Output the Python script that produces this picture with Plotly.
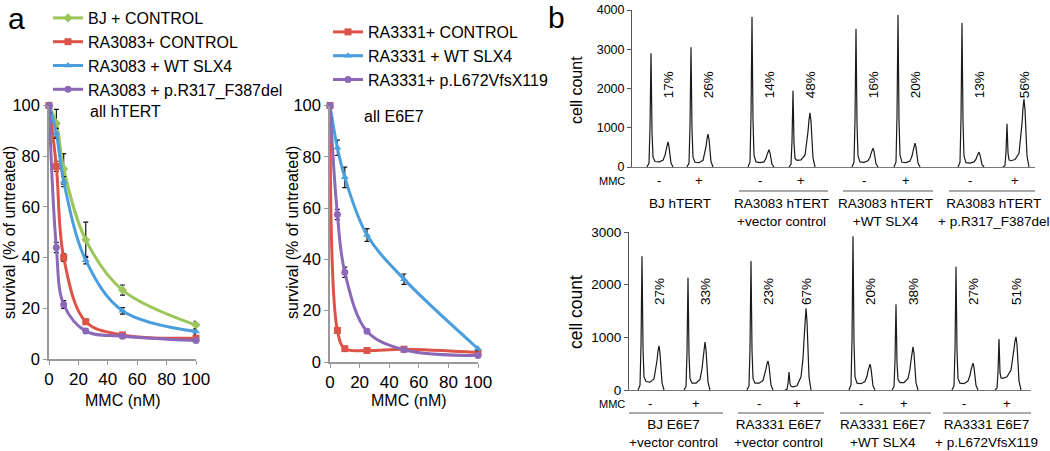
import plotly.graph_objects as go

W, H = 1050, 451
FONT = "Liberation Sans, Arial, Helvetica, sans-serif"

# ---------------- panel a data ----------------
mmc = [0, 5, 10, 25, 50, 100]

# hTERT lines
bj_ctrl = [100, 93, 75, 47, 27.2, 13.4]
bj_ctrl_err = [4, 5.5, 6, 7, 2, 1.5]
ra3083_ctrl = [100, 76, 40, 14.7, 9.5, 8.2]
ra3083_ctrl_err = [3, 2, 1.5, 1, 0.8, 0.8]
ra3083_wt = [100, 89, 70, 39, 19, 10.8]
ra3083_wt_err = [3, 2, 2, 1.5, 1.3, 1]
ra3083_mut = [100, 44, 21.5, 11, 9, 7.3]
ra3083_mut_err = [3, 2, 1.5, 0.8, 0.5, 0.5]

# E6E7 lines
ra3331_ctrl = [100, 12.3, 5.2, 4.5, 5, 3.7]
ra3331_ctrl_err = [5, 1, 0.5, 0.5, 0.5, 0.5]
ra3331_wt = [100, 83.5, 72, 49.5, 32.3, 5.2]
ra3331_wt_err = [5, 3, 4, 2.5, 2, 0.8]
ra3331_mut = [100, 57.5, 35, 12, 4.8, 2.5]
ra3331_mut_err = [5, 2, 2, 0.8, 0.5, 0.5]

# ---------------- panel b data ----------------
channel = [-4, -2, -1, 0, 1, 2, 4, 8, 12, 14, 15, 16, 17, 18, 19, 20, 22]

top_counts = [
    [0, 100, 1000, 2900, 900, 250, 140, 130, 170, 300, 420, 560, 640, 520, 300, 100, 0],
    [0, 100, 1050, 3050, 950, 250, 120, 110, 170, 360, 520, 720, 840, 700, 420, 140, 0],
    [0, 130, 1300, 3820, 1200, 300, 130, 110, 130, 220, 310, 400, 440, 360, 220, 70, 0],
    [0, 70, 650, 1940, 620, 220, 170, 180, 300, 620, 900, 1200, 1380, 1150, 700, 230, 0],
    [0, 120, 1200, 3520, 1100, 280, 130, 120, 160, 250, 340, 430, 480, 400, 240, 80, 0],
    [0, 130, 1300, 3870, 1200, 300, 120, 110, 150, 280, 400, 540, 610, 500, 300, 100, 0],
    [0, 120, 1250, 3670, 1150, 280, 110, 100, 130, 200, 270, 340, 380, 310, 190, 60, 0],
    [0, 40, 380, 1100, 360, 180, 160, 190, 350, 750, 1100, 1500, 1730, 1450, 850, 280, 0],
]
bottom_counts = [
    [0, 90, 850, 2540, 800, 250, 160, 150, 210, 400, 560, 740, 840, 700, 420, 140, 0],
    [0, 70, 700, 2130, 680, 220, 130, 130, 200, 400, 580, 780, 910, 760, 460, 150, 0],
    [0, 80, 800, 2450, 760, 220, 130, 130, 180, 300, 400, 500, 550, 460, 280, 90, 0],
    [0, 15, 120, 340, 120, 70, 60, 80, 250, 600, 950, 1300, 1550, 1300, 780, 250, 0],
    [0, 100, 950, 2920, 900, 250, 130, 120, 160, 260, 360, 450, 490, 410, 250, 80, 0],
    [0, 60, 550, 1630, 520, 200, 140, 140, 220, 400, 560, 720, 820, 690, 420, 140, 0],
    [0, 80, 780, 2340, 740, 220, 130, 120, 170, 280, 380, 470, 510, 430, 260, 90, 0],
    [0, 35, 330, 970, 330, 230, 220, 250, 380, 600, 780, 930, 1010, 860, 520, 170, 0],
]
top_pct = ["17%", "26%", "14%", "48%", "16%", "20%", "13%", "56%"]
bottom_pct = ["27%", "33%", "23%", "67%", "20%", "38%", "27%", "51%"]
mmc_signs = ["-", "+", "-", "+", "-", "+", "-", "+"]
top_groups = ["BJ hTERT", "RA3083 hTERT<br>+vector control",
              "RA3083 hTERT<br>+WT SLX4", "RA3083 hTERT<br>+ p.R317_F387del"]
bottom_groups = ["BJ E6E7<br>+vector control", "RA3331 E6E7<br>+vector control",
                 "RA3331 E6E7<br>+WT SLX4", "RA3331 E6E7<br>+ p.L672VfsX119"]

# layout positions (G1-peak slot offsets along histogram axes)
top_slots = [19, 59, 120, 161, 224, 266, 330, 375]
bottom_slots = [13, 59, 122, 160, 224, 267, 327, 370]

GREEN, RED, BLUE, PURPLE = "#9cc55a", "#dc5447", "#4a9edd", "#8b68b8"


def px(x):
    return x / W


def py(y):
    return 1 - y / H


fig = go.Figure()


def add_line(x, y, err, name, color, symbol, xa, ya, legend):
    fig.add_trace(go.Scatter(
        x=x, y=y, name=name, mode="lines+markers",
        line=dict(color=color, width=3, shape="spline", smoothing=1.0),
        marker=dict(color=color, size=7, symbol=symbol),
        error_y=dict(type="data", array=err, color="#111", thickness=1.2, width=2.5),
        xaxis=xa, yaxis=ya, legend=legend, cliponaxis=False,
    ))


add_line(mmc, bj_ctrl, bj_ctrl_err, "BJ + CONTROL", GREEN, "diamond", "x", "y", "legend")
add_line(mmc, ra3083_ctrl, ra3083_ctrl_err, "RA3083+ CONTROL", RED, "square", "x", "y", "legend")
add_line(mmc, ra3083_wt, ra3083_wt_err, "RA3083 + WT SLX4", BLUE, "triangle-up", "x", "y", "legend")
add_line(mmc, ra3083_mut, ra3083_mut_err, "RA3083 + p.R317_F387del", PURPLE, "circle", "x", "y", "legend")

add_line(mmc, ra3331_ctrl, ra3331_ctrl_err, "RA3331+ CONTROL", RED, "square", "x2", "y2", "legend2")
add_line(mmc, ra3331_wt, ra3331_wt_err, "RA3331 + WT SLX4", BLUE, "triangle-up", "x2", "y2", "legend2")
add_line(mmc, ra3331_mut, ra3331_mut_err, "RA3331+ p.L672VfsX119", PURPLE, "circle", "x2", "y2", "legend2")

for slots, counts, xa, ya in ((top_slots, top_counts, "x3", "y3"),
                              (bottom_slots, bottom_counts, "x4", "y4")):
    for s, c in zip(slots, counts):
        fig.add_trace(go.Scatter(
            x=[s + ch for ch in channel], y=c, mode="lines",
            line=dict(color="#1a1a1a", width=1.2), showlegend=False,
            xaxis=xa, yaxis=ya, hoverinfo="skip"))

ann = []
shapes = []


def note(text, x, y, size, xref="paper", yref="paper", angle=0, xanchor="center",
         yanchor="middle"):
    ann.append(dict(text=text, x=x, y=y, xref=xref, yref=yref, textangle=angle,
                    xanchor=xanchor, yanchor=yanchor, showarrow=False,
                    font=dict(size=size, family=FONT, color="black")))


# panel letters
note("a", px(16), py(18), 30)
note("b", px(556), py(17), 30)

# panel a texts
note("all hTERT", px(88), py(112), 16, xanchor="left")
note("all E6E7", px(362), py(116), 16, xanchor="left")
for x in (9, 292):
    note("survival (% of untreated)", px(x), py(233), 16, angle=-90)
for x in (123, 409):
    note("MMC (nM)", px(x), py(400), 16)

# panel b texts
note("cell count", px(576), py(90), 16, angle=-90)
note("cell count", px(576), py(312), 17.5, angle=-90)

for xa, ya, slots, pcts, ypct, ysign, glabels, yline, ylab, line_from in (
        ("x3", "y3", top_slots, top_pct, 2080, 180, top_groups, 191, 194, 1),
        ("x4", "y4", bottom_slots, bottom_pct, 1860, 403, bottom_groups, 413, 415, 0)):
    note("MMC", px(627), py(ysign + 1), 11, xanchor="right")
    for s, p, sg in zip(slots, pcts, mmc_signs):
        note(p, s + 17, ypct, 13.5, xref=xa, yref=ya, angle=-90)
        note(sg, s + 8, py(ysign), 13, xref=xa)
    for g in range(4):
        a, b = slots[2 * g], slots[2 * g + 1]
        note(glabels[g], (a + b) / 2 + 8.5, py(ylab), 13.5, xref=xa, yanchor="top")
        if g >= line_from:
            shapes.append(dict(type="line", xref=xa, yref="paper", x0=a - 13, x1=b + 35,
                               y0=py(yline), y1=py(yline),
                               line=dict(color="#555", width=1)))

axis_a = dict(range=[0, 100], showline=True, linecolor="#999", linewidth=1.5,
              ticks="outside", ticklen=4, tickcolor="#999", showgrid=False,
              zeroline=False, automargin=False,
              tickfont=dict(size=17, family=FONT, color="black"))
yaxis_a = dict(axis_a, tickvals=[0, 20, 40, 60, 80, 100],
               tickfont=dict(size=16.5, family=FONT, color="black"))
xaxis_a = dict(axis_a, tickvals=[0, 20, 40, 60, 80, 100])

xaxis_b = dict(showline=True, linecolor="#777", linewidth=1, showgrid=False,
               zeroline=False, showticklabels=False, ticks="", automargin=False)
yaxis_b = dict(showline=True, linecolor="#555", linewidth=1, showgrid=False,
               zeroline=False, ticks="outside", ticklen=4, tickcolor="#555",
               automargin=False)

fig.update_layout(
    template="none",
    width=W, height=H, margin=dict(l=0, r=0, t=0, b=0, pad=0, autoexpand=False),
    paper_bgcolor="white", plot_bgcolor="white",
    font=dict(family=FONT, color="black"),
    xaxis=dict(xaxis_a, domain=[px(49), px(196)], anchor="y"),
    yaxis=dict(yaxis_a, domain=[py(359), py(105.5)], anchor="x"),
    xaxis2=dict(xaxis_a, domain=[px(330), px(478)], anchor="y2"),
    yaxis2=dict(yaxis_a, domain=[py(362), py(105.5)], anchor="x2"),
    xaxis3=dict(xaxis_b, domain=[px(632), px(1035)], range=[0, 403], anchor="y3"),
    yaxis3=dict(yaxis_b, domain=[py(167), py(10)], range=[0, 4000], anchor="x3",
                tickvals=[0, 1000, 2000, 3000, 4000],
                tickfont=dict(size=12.5, family=FONT, color="black")),
    xaxis4=dict(xaxis_b, domain=[px(629), px(1031)], range=[0, 402], anchor="y4"),
    yaxis4=dict(yaxis_b, domain=[py(390), py(232)], range=[0, 3000], anchor="x4",
                tickvals=[0, 1000, 2000, 3000],
                tickfont=dict(size=13.5, family=FONT, color="black")),
    legend=dict(x=px(48), y=py(1), xanchor="left", yanchor="top",
                font=dict(size=16, family=FONT, color="black"),
                bgcolor="rgba(0,0,0,0)", tracegroupgap=0),
    legend2=dict(x=px(328), y=py(15), xanchor="left", yanchor="top",
                 font=dict(size=16, family=FONT, color="black"),
                 bgcolor="rgba(0,0,0,0)", tracegroupgap=0),
    annotations=ann, shapes=shapes, showlegend=True, hovermode=False,
)

fig.write_html("out.html", config={"displayModeBar": False},
               post_script="document.body.style.margin='0';document.body.style.overflow='hidden';")
